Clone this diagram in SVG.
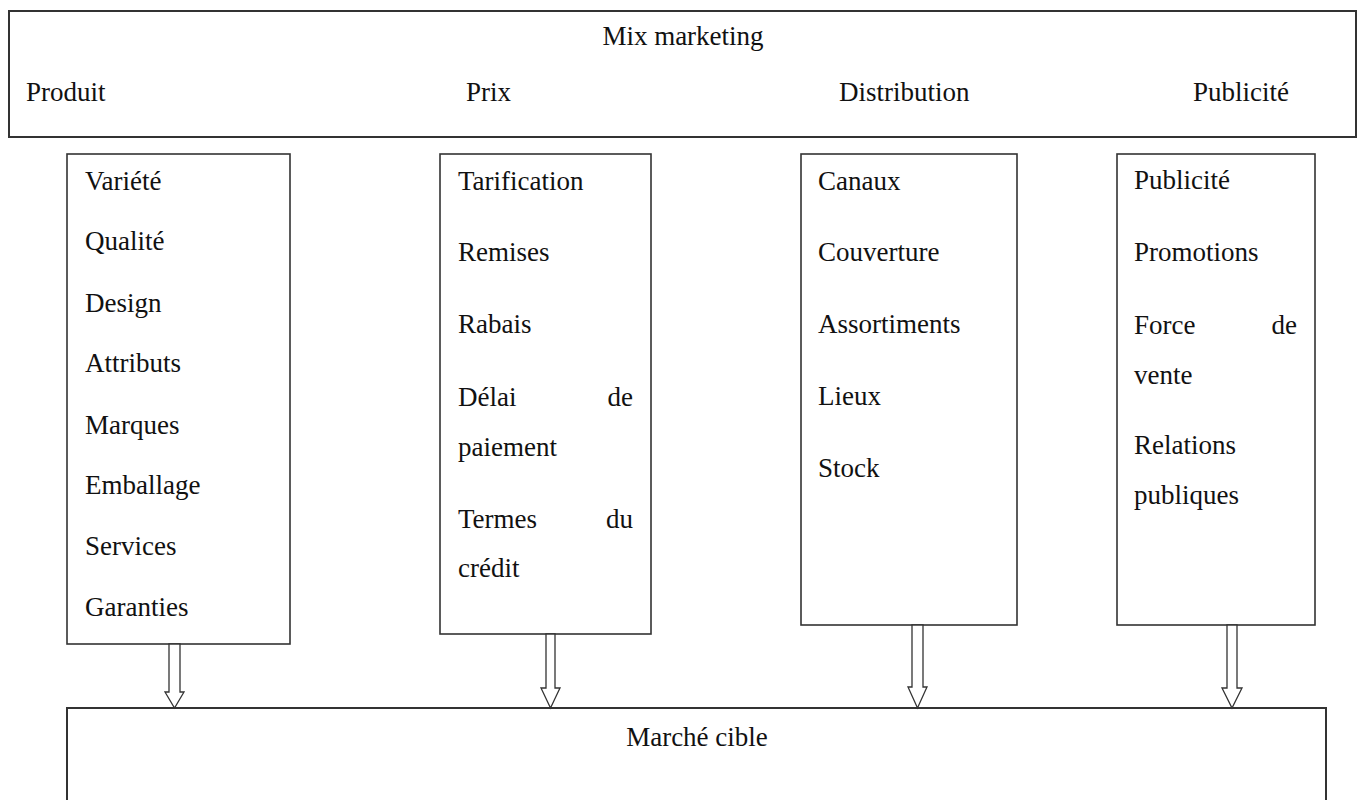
<svg xmlns="http://www.w3.org/2000/svg" width="1357" height="800" viewBox="0 0 1357 800">
<style>
text{font-family:"Liberation Serif","Times New Roman",serif;font-size:27px;fill:#111}
.box{fill:#fff;stroke:#333;stroke-width:1.6}
.big{fill:#fff;stroke:#333;stroke-width:2}
.arr{fill:#fff;stroke:#333;stroke-width:1.3;stroke-linejoin:miter}
.e{text-anchor:end}
.m{text-anchor:middle}
</style>
<rect width="1357" height="800" fill="#fff"/>
<g id="mix">
<rect class="big" x="9" y="11" width="1347" height="126"/>
<text class="m" x="683" y="45">Mix marketing</text>
<text x="26" y="101">Produit</text>
<text x="466" y="101">Prix</text>
<text x="839" y="101">Distribution</text>
<text x="1193" y="101">Publicité</text>
</g>
<g id="produit">
<rect class="box" x="67" y="154" width="223" height="490"/>
<text x="85" y="190">Variété</text>
<text x="85" y="250">Qualité</text>
<text x="85" y="312">Design</text>
<text x="85" y="372">Attributs</text>
<text x="85" y="434">Marques</text>
<text x="85" y="494">Emballage</text>
<text x="85" y="555">Services</text>
<text x="85" y="616">Garanties</text>
</g>
<g id="prix">
<rect class="box" x="440" y="154" width="211" height="480"/>
<text x="458" y="190">Tarification</text>
<text x="458" y="261">Remises</text>
<text x="458" y="333">Rabais</text>
<text x="458" y="406">Délai</text>
<text class="e" x="633" y="406">de</text>
<text x="458" y="456">paiement</text>
<text x="458" y="528">Termes</text>
<text class="e" x="633" y="528">du</text>
<text x="458" y="577">crédit</text>
</g>
<g id="distribution">
<rect class="box" x="801" y="154" width="216" height="471"/>
<text x="818" y="190">Canaux</text>
<text x="818" y="261">Couverture</text>
<text x="818" y="333">Assortiments</text>
<text x="818" y="405">Lieux</text>
<text x="818" y="477">Stock</text>
</g>
<g id="publicite">
<rect class="box" x="1117" y="154" width="198" height="471"/>
<text x="1134" y="189">Publicité</text>
<text x="1134" y="261">Promotions</text>
<text x="1134" y="334">Force</text>
<text class="e" x="1297" y="334">de</text>
<text x="1134" y="384">vente</text>
<text x="1134" y="454">Relations</text>
<text x="1134" y="504">publiques</text>
</g>
<g id="marche">
<rect class="big" x="67" y="708" width="1259" height="110"/>
<text class="m" x="697" y="746">Marché cible</text>
</g>
<g id="connectors">
<polygon class="arr" points="169,644 180,644 180,692 184,692 174.5,708 165,692 169,692"/>
<polygon class="arr" points="546,634 555,634 555,688 560,688 550.5,708 541,688 546,688"/>
<polygon class="arr" points="912,625 923,625 923,687 927,687 917.5,708 908,687 912,687"/>
<polygon class="arr" points="1227,625 1237,625 1237,688 1242,688 1232,708 1222,688 1227,688"/>
</g>
</svg>
